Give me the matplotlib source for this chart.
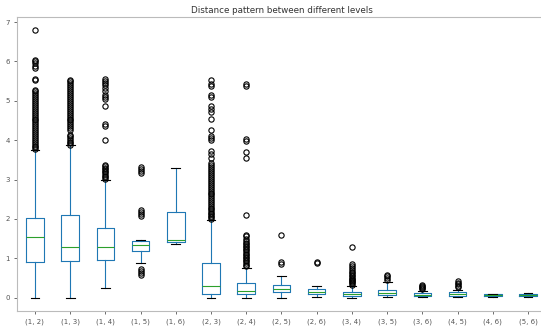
import matplotlib
matplotlib.use("Agg")
import matplotlib.pyplot as plt

labels = ["(1, 2)", "(1, 3)", "(1, 4)", "(1, 5)", "(1, 6)", "(2, 3)", "(2, 4)", "(2, 5)",
          "(2, 6)", "(3, 4)", "(3, 5)", "(3, 6)", "(4, 5)", "(4, 6)", "(5, 6)"]

whislo = [0.0, 0.0, 0.25, 0.89, 1.35, 0.0, 0.0, 0.0, 0.02, 0.0, 0.02, 0.02, 0.02, 0.02, 0.02]
q1 = [0.90, 0.94, 0.96, 1.18, 1.42, 0.10, 0.08, 0.13, 0.08, 0.04, 0.06, 0.04, 0.04, 0.03, 0.04]
med = [1.55, 1.28, 1.29, 1.34, 1.47, 0.30, 0.17, 0.22, 0.14, 0.08, 0.11, 0.07, 0.08, 0.06, 0.07]
q3 = [2.03, 2.10, 1.78, 1.45, 2.18, 0.87, 0.36, 0.33, 0.22, 0.14, 0.20, 0.11, 0.14, 0.09, 0.10]
whishi = [3.75, 3.87, 2.99, 1.46, 3.30, 1.96, 0.76, 0.55, 0.30, 0.30, 0.39, 0.17, 0.20, 0.10, 0.11]

fliers = [
    [3.78, 3.82, 3.86, 3.9, 3.95, 4.0, 4.05, 4.1, 4.15, 4.2, 4.25, 4.3, 4.35, 4.4, 4.45,
     4.5, 4.55, 4.6, 4.65, 4.7, 4.75, 4.8, 4.85, 4.9, 4.95, 5.0, 5.05, 5.1, 5.15, 5.2,
     5.25, 5.28, 5.53, 5.56, 5.83, 5.88, 5.95, 6.0, 6.03, 6.79],
    [3.88, 3.92, 3.96, 4.0, 4.05, 4.1, 4.13, 4.25, 4.3, 4.35, 4.4, 4.45, 4.5, 4.55, 4.6,
     4.65, 4.7, 4.75, 4.8, 4.85, 4.9, 4.95, 5.0, 5.05, 5.1, 5.15, 5.2, 5.25, 5.3, 5.35,
     5.4, 5.45, 5.5, 5.54],
    [3.02, 3.06, 3.1, 3.14, 3.18, 3.22, 3.26, 3.3, 3.35, 3.38, 4.0, 4.35, 4.42, 4.87,
     5.05, 5.1, 5.15, 5.25, 5.32, 5.4, 5.45, 5.5, 5.55],
    [0.57, 0.62, 0.67, 0.72, 2.07, 2.12, 2.17, 2.22, 3.17, 3.22, 3.27, 3.31],
    [],
    [2.0, 2.04, 2.08, 2.12, 2.16, 2.2, 2.24, 2.28, 2.32, 2.37, 2.42, 2.47, 2.52, 2.57,
     2.62, 2.67, 2.72, 2.77, 2.82, 2.87, 2.92, 2.97, 3.02, 3.07, 3.12, 3.17, 3.22, 3.27,
     3.32, 3.38, 3.43, 3.55, 3.64, 3.72, 4.0, 4.05, 4.1, 4.27, 4.55, 4.72, 4.8, 4.86,
     5.1, 5.14, 5.38, 5.42, 5.54],
    [0.8, 0.84, 0.88, 0.92, 0.96, 1.0, 1.04, 1.08, 1.12, 1.16, 1.2, 1.24, 1.28, 1.32,
     1.36, 1.4, 1.44, 1.5, 1.56, 1.6, 2.1, 3.54, 3.71, 3.98, 4.02, 5.38, 5.42],
    [0.85, 0.9, 1.58],
    [0.87, 0.9],
    [0.33, 0.36, 0.39, 0.42, 0.45, 0.48, 0.51, 0.54, 0.58, 0.62, 0.66, 0.7, 0.75, 0.8,
     0.85, 1.29],
    [0.46, 0.5, 0.54, 0.58],
    [0.21, 0.24, 0.27, 0.3, 0.33],
    [0.26, 0.3, 0.34, 0.38, 0.41],
    [],
    [],
]

stats = []
for i in range(len(labels)):
    stats.append({"label": labels[i], "whislo": whislo[i], "q1": q1[i], "med": med[i],
                  "q3": q3[i], "whishi": whishi[i], "fliers": fliers[i]})

fig = plt.figure(figsize=(5.41, 3.27), dpi=100)
ax = fig.add_axes([0.032, 0.049, 0.9765, 0.899])

# pandas-like colours: blue boxes/whiskers, green medians, black caps
ax.bxp(stats, widths=0.5, showfliers=True,
       boxprops=dict(color="#1f77b4", linewidth=0.8),
       whiskerprops=dict(color="#1f77b4", linewidth=0.8),
       capprops=dict(color="black", linewidth=0.8),
       medianprops=dict(color="#2ca02c", linewidth=0.8),
       flierprops=dict(marker="o", markerfacecolor="none", markeredgecolor="black",
                       markersize=3.8, markeredgewidth=0.8))

ax.set_title("Distance pattern between different levels", fontsize=6.3, color="#333333", pad=3)
ax.tick_params(labelsize=5, colors="#555555", length=2, width=0.6)
for side in ax.spines:
    ax.spines[side].set_color("#bbbbbb")
    ax.spines[side].set_linewidth(0.8)

fig.savefig("out.png", dpi=100)
